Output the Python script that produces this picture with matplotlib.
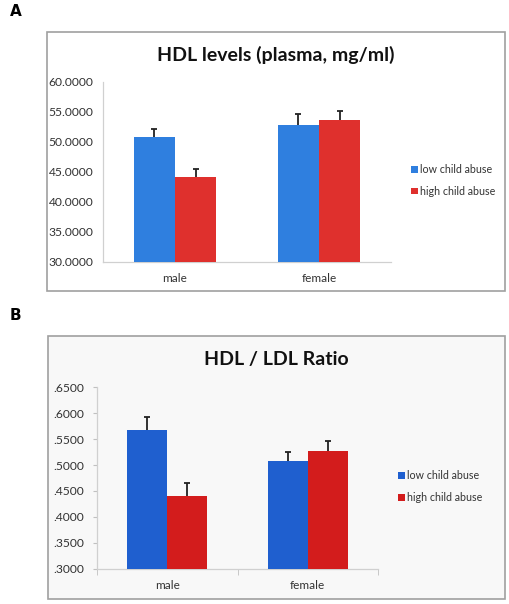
import matplotlib
matplotlib.use("Agg")
import matplotlib.pyplot as plt
import numpy as np
from matplotlib.patches import Rectangle

plt.rcParams['font.family'] = ['Lato', 'DejaVu Sans']

categories = ['male', 'female']
series_names = ['low child abuse', 'high child abuse']

hdl_low = [50.83, 52.83]
hdl_low_err = [1.33, 1.83]
hdl_high = [44.17, 53.72]
hdl_high_err = [1.33, 1.40]
hdl_ticks = [30, 35, 40, 45, 50, 55, 60]

ratio_low = [0.568, 0.507]
ratio_low_err = [0.025, 0.019]
ratio_high = [0.440, 0.528]
ratio_high_err = [0.025, 0.019]
ratio_ticks = [0.30, 0.35, 0.40, 0.45, 0.50, 0.55, 0.60, 0.65]

W, H = 510, 604
fig = plt.figure(figsize=(W / 100, H / 100), dpi=100)
fig.patch.set_facecolor('white')


def rect(l, t, r, b):
    return [l / W, 1 - b / H, (r - l) / W, (b - t) / H]


def box(l, t, r, b, fc):
    fig.patches.append(Rectangle((l / W, 1 - b / H), (r - l) / W, (b - t) / H,
                                 transform=fig.transFigure, facecolor=fc,
                                 edgecolor='#a0a0a0', linewidth=1.2, zorder=-5))


def upper_err(ax, xs, vals, errs):
    vals = np.asarray(vals)
    errs = np.asarray(errs)
    ax.errorbar(xs, vals, yerr=[np.zeros(len(vals)), errs], fmt='none',
                ecolor='#222222', elinewidth=1.3, capsize=0, zorder=2)
    ax.plot(xs, vals + errs, linestyle='none', marker='_', markersize=5,
            markeredgewidth=1.3, color='#222222', zorder=2)


def panel(axrect, boxrect, low, lowe, high, highe, ylim, ticks, fmt, colors, title, title_y,
          legend_x, legend_y, ticks_on):
    ax = fig.add_axes(rect(*axrect))
    ax.set_zorder(2)
    ax.set_facecolor('none')
    x = np.arange(len(categories))
    w = 0.285
    ax.bar(x - w / 2, low, w, color=colors[0], label=series_names[0], zorder=3)
    ax.bar(x + w / 2, high, w, color=colors[1], label=series_names[1], zorder=3)
    upper_err(ax, x - w / 2, low, lowe)
    upper_err(ax, x + w / 2, high, highe)
    ax.set_xlim(-0.5, 1.5)
    ax.set_ylim(*ylim)
    ax.set_yticks(ticks)
    ax.set_yticklabels([fmt(t) for t in ticks], fontsize=8.7, color='#333333')
    ax.set_xticks(x)
    ax.set_xticklabels(categories, fontsize=8.5, color='#333333')
    for s in ['top', 'right']:
        ax.spines[s].set_visible(False)
    for s in ['left', 'bottom']:
        ax.spines[s].set_color('#d0d0d0')
        ax.spines[s].set_linewidth(0.9)
    if ticks_on:
        ax.tick_params(axis='y', length=3, color='#c0c0c0', pad=6)
        ax.tick_params(axis='x', length=0, pad=8)
        ax.set_xticks([-0.5, 0.5, 1.5], minor=True)
        ax.tick_params(axis='x', which='minor', length=4, color='#c0c0c0')
    else:
        ax.tick_params(axis='y', length=0, pad=7)
        ax.tick_params(axis='x', length=0, pad=8)
    fig.text(0.5 * (boxrect[0] + boxrect[2]) / W, 1 - title_y / H, title,
             fontsize=14, fontweight='bold', ha='center', va='center', color='#111111')
    ax.legend(loc='center left', bbox_to_anchor=(legend_x / W, 1 - legend_y / H),
              bbox_transform=fig.transFigure, frameon=False, fontsize=7.7,
              handlelength=0.6, handleheight=0.6, handletextpad=0.2,
              labelspacing=1.0, borderpad=0, labelcolor='#333333')
    return ax


# Panel A
boxA = (47, 32, 505, 291)
box(*boxA, 'white')
fig.text(10 / W, 1 - 12 / H, 'A', fontsize=11, fontweight='bold', ha='left', va='center',
         family=['DejaVu Sans'])
panel((103, 82, 391, 262), boxA, hdl_low, hdl_low_err, hdl_high, hdl_high_err, (30, 60),
      hdl_ticks, lambda t: f'{t:.4f}', ['#2f7fdf', '#df302d'],
      'HDL levels (plasma, mg/ml)', 55, 406, 180.5, False)

# Panel B
boxB = (48, 336, 505, 599)
box(*boxB, '#f8f8f8')
fig.text(10 / W, 1 - 316 / H, 'B', fontsize=11, fontweight='bold', ha='left', va='center',
         family=['DejaVu Sans'])
panel((97, 387.3, 378, 568.7), boxB, ratio_low, ratio_low_err, ratio_high, ratio_high_err,
      (0.30, 0.65), ratio_ticks, lambda t: f'{t:.4f}'[1:], ['#1f5fcf', '#d31c1c'],
      'HDL / LDL Ratio', 360, 393, 486.7, True)

fig.savefig('out.png', dpi=100)
